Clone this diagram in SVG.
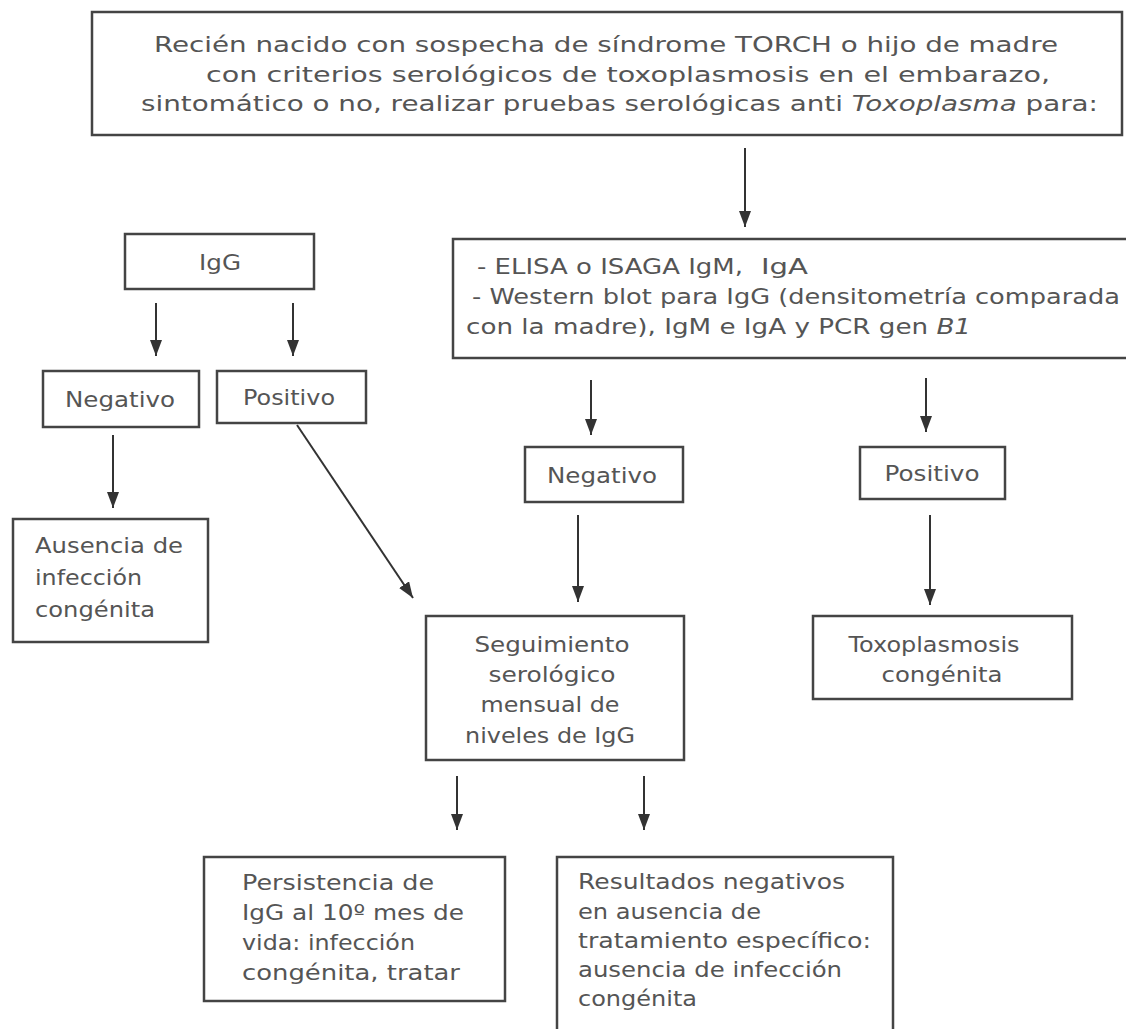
<svg xmlns="http://www.w3.org/2000/svg" width="1126" height="1029" viewBox="0 0 1126 1029">
<defs>
<marker id="ah" viewBox="0 0 16 12" refX="16" refY="6" markerWidth="16" markerHeight="12" markerUnits="userSpaceOnUse" orient="auto">
<path d="M0,0 L16,6 L0,12 Z" fill="#333"/>
</marker>
<style>
.box{fill:#fff;stroke:#444;stroke-width:2.5}
.t{font-family:"DejaVu Sans","Liberation Sans",sans-serif;font-size:22px;fill:#555}
.c{text-anchor:middle}
.con line{stroke:#333;stroke-width:2;marker-end:url(#ah)}
</style>
</defs>
<rect width="1126" height="1029" fill="#fff"/>
<g class="con">
<line x1="745" y1="148" x2="745" y2="227"/>
<line x1="156" y1="303" x2="156" y2="356"/>
<line x1="293" y1="303" x2="293" y2="356"/>
<line x1="113" y1="435" x2="113" y2="508"/>
<line x1="297" y1="425" x2="413" y2="598"/>
<line x1="591" y1="380" x2="591" y2="435"/>
<line x1="926" y1="378" x2="926" y2="432"/>
<line x1="578" y1="515" x2="578" y2="602"/>
<line x1="930" y1="515" x2="930" y2="605"/>
<line x1="457" y1="776" x2="457" y2="830"/>
<line x1="644" y1="776" x2="644" y2="830"/>
</g>
<g id="n-top">
<rect class="box" x="92" y="12" width="1030" height="123"/>
<text class="t" x="154" y="52" textLength="904" lengthAdjust="spacingAndGlyphs">Recién nacido con sospecha de síndrome TORCH o hijo de madre</text>
<text class="t" x="206" y="82" textLength="844" lengthAdjust="spacingAndGlyphs">con criterios serológicos de toxoplasmosis en el embarazo,</text>
<text class="t" x="141" y="111" textLength="957" lengthAdjust="spacingAndGlyphs">sintomático o no, realizar pruebas serológicas anti <tspan font-style="italic">Toxoplasma</tspan> para:</text>
</g>
<g id="n-igg">
<rect class="box" x="125" y="234" width="189" height="55"/>
<text class="t c" x="220" y="270" textLength="42" lengthAdjust="spacingAndGlyphs">IgG</text>
</g>
<g id="n-tests">
<rect class="box" x="453" y="239" width="690" height="119"/>
<text class="t" x="477" y="274" textLength="266" lengthAdjust="spacingAndGlyphs">- ELISA o ISAGA IgM,</text>
<text class="t" x="761" y="274" textLength="47" lengthAdjust="spacingAndGlyphs">IgA</text>
<text class="t" x="472" y="304" textLength="648" lengthAdjust="spacingAndGlyphs">- Western blot para IgG (densitometría comparada</text>
<text class="t" x="466" y="334" textLength="505" lengthAdjust="spacingAndGlyphs">con la madre), IgM e  IgA y PCR gen  <tspan font-style="italic">B1</tspan></text>
</g>
<g id="n-neg1">
<rect class="box" x="43" y="371" width="156" height="56"/>
<text class="t c" x="120" y="407" textLength="110" lengthAdjust="spacingAndGlyphs">Negativo</text>
</g>
<g id="n-pos1">
<rect class="box" x="217" y="371" width="149" height="52"/>
<text class="t c" x="289" y="405" textLength="92" lengthAdjust="spacingAndGlyphs">Positivo</text>
</g>
<g id="n-ausencia">
<rect class="box" x="13" y="519" width="195" height="123"/>
<text class="t" x="35" y="553" textLength="148" lengthAdjust="spacingAndGlyphs">Ausencia de</text>
<text class="t" x="35" y="585" textLength="107" lengthAdjust="spacingAndGlyphs">infección</text>
<text class="t" x="35" y="617" textLength="120" lengthAdjust="spacingAndGlyphs">congénita</text>
</g>
<g id="n-neg2">
<rect class="box" x="525" y="447" width="158" height="55"/>
<text class="t c" x="602" y="483" textLength="110" lengthAdjust="spacingAndGlyphs">Negativo</text>
</g>
<g id="n-pos2">
<rect class="box" x="860" y="447" width="145" height="52"/>
<text class="t c" x="932" y="481" textLength="95" lengthAdjust="spacingAndGlyphs">Positivo</text>
</g>
<g id="n-seg">
<rect class="box" x="426" y="616" width="258" height="144"/>
<text class="t c" x="552" y="652" textLength="155" lengthAdjust="spacingAndGlyphs">Seguimiento</text>
<text class="t c" x="552" y="682" textLength="127" lengthAdjust="spacingAndGlyphs">serológico</text>
<text class="t c" x="550" y="712" textLength="139" lengthAdjust="spacingAndGlyphs">mensual de</text>
<text class="t c" x="550" y="743" textLength="170" lengthAdjust="spacingAndGlyphs">niveles de IgG</text>
</g>
<g id="n-toxo">
<rect class="box" x="813" y="616" width="259" height="83"/>
<text class="t c" x="934" y="652" textLength="171" lengthAdjust="spacingAndGlyphs">Toxoplasmosis</text>
<text class="t c" x="942" y="682" textLength="121" lengthAdjust="spacingAndGlyphs">congénita</text>
</g>
<g id="n-pers">
<rect class="box" x="204" y="857" width="301" height="144"/>
<text class="t" x="242" y="890" textLength="192" lengthAdjust="spacingAndGlyphs">Persistencia de</text>
<text class="t" x="242" y="920" textLength="222" lengthAdjust="spacingAndGlyphs">IgG al 10º mes de</text>
<text class="t" x="242" y="950" textLength="173" lengthAdjust="spacingAndGlyphs">vida: infección</text>
<text class="t" x="242" y="980" textLength="218" lengthAdjust="spacingAndGlyphs">congénita, tratar</text>
</g>
<g id="n-res">
<rect class="box" x="557" y="857" width="336" height="190"/>
<text class="t" x="578" y="889" textLength="267" lengthAdjust="spacingAndGlyphs">Resultados negativos</text>
<text class="t" x="578" y="919" textLength="183" lengthAdjust="spacingAndGlyphs">en ausencia de</text>
<text class="t" x="578" y="948" textLength="293" lengthAdjust="spacingAndGlyphs">tratamiento específico:</text>
<text class="t" x="578" y="977" textLength="264" lengthAdjust="spacingAndGlyphs">ausencia de infección</text>
<text class="t" x="578" y="1006" textLength="119" lengthAdjust="spacingAndGlyphs">congénita</text>
</g>
</svg>
